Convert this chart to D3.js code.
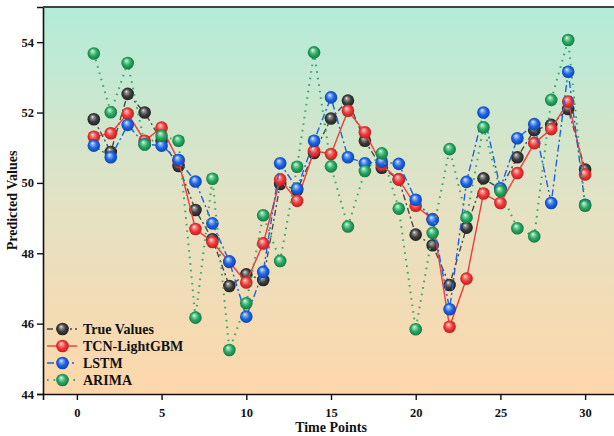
<!DOCTYPE html>
<html>
<head>
<meta charset="utf-8">
<script src="https://cdn.jsdelivr.net/npm/d3@7"></script>
<style>
  body { margin: 0; background: #fff; }
  svg text { font-family: "Liberation Serif", "Times New Roman", serif; font-weight: bold; }
</style>
</head>
<body>
<div id="chart"></div>
<script>
// data
const timePoints = [1,2,3,4,5,6,7,8,9,10,11,12,13,14,15,16,17,18,19,20,21,22,23,24,25,26,27,28,29,30];
const trueValues = [51.81,50.88,52.53,52.0,51.2,50.48,49.23,48.4,47.07,47.4,47.24,49.97,49.8,50.85,51.83,52.34,51.2,50.43,50.1,48.53,48.23,47.1,48.73,50.13,49.82,50.73,51.5,51.65,52.1,50.38];
const tcnLightGBM = [51.31,51.41,51.97,51.2,51.57,50.63,48.69,48.32,47.75,47.17,48.28,50.1,49.49,50.91,50.82,52.05,51.44,50.51,50.1,49.35,48.97,45.91,47.28,49.7,49.43,50.28,51.13,51.53,52.31,50.24];
const lstm = [51.06,50.73,51.65,51.1,51.06,50.65,50.04,48.85,47.77,46.2,47.47,50.56,49.84,51.2,52.43,50.73,50.56,50.6,50.54,49.52,48.95,46.41,50.03,52.0,49.85,51.27,51.67,49.43,53.16,49.38];
const arima = [53.68,52.01,53.41,51.09,51.34,51.2,46.17,50.12,45.25,46.58,49.08,47.78,50.46,53.71,50.47,48.76,50.34,50.84,49.27,45.84,48.58,50.96,49.02,51.58,49.77,48.71,48.48,52.36,54.06,49.35];
const seriesNames = ["True Values", "TCN-LightGBM", "LSTM", "ARIMA"];
const xTicks = [0, 5, 10, 15, 20, 25, 30];
const yTicks = [44, 46, 48, 50, 52, 54];

const W = 614, H = 436;
const margin = { top: 7, right: -5, bottom: 42, left: 43 };
const width = W - margin.left - margin.right,
  height = H - margin.top - margin.bottom;

const svg = d3.select("#chart").append("svg")
  .attr("width", W).attr("height", H);

const defs = svg.append("defs");
const bg = defs.append("linearGradient").attr("id", "bg")
  .attr("x1", 0).attr("y1", 0).attr("x2", 0).attr("y2", 1);
bg.append("stop").attr("offset", "0%").attr("stop-color", "#b2ecd9");
bg.append("stop").attr("offset", "50%").attr("stop-color", "#e3e2c4");
bg.append("stop").attr("offset", "100%").attr("stop-color", "#fed7aa");

const styles = [
  { key: "t", line: "#4a4a4a", light: "#a0a0a0", base: "#3e3e3e", dark: "#1c1c1c", dash: "6,3,2,3", w: 1.4 },
  { key: "r", line: "#ee3b3b", light: "#ffa0a0", base: "#f03838", dark: "#b51a1a", dash: null, w: 1.4 },
  { key: "b", line: "#1f62d8", light: "#95bcff", base: "#1e64e6", dark: "#0e40a0", dash: "7,3,2,3", w: 1.4 },
  { key: "g", line: "#36a86a", light: "#95e4b5", base: "#28a862", dark: "#16703d", dash: "1.6,5", w: 2 }
];
styles.forEach(s => {
  const rg = defs.append("radialGradient").attr("id", "ball-" + s.key)
    .attr("cx", "50%").attr("cy", "50%").attr("r", "55%")
    .attr("fx", "38%").attr("fy", "30%");
  rg.append("stop").attr("offset", "0%").attr("stop-color", "#ffffff");
  rg.append("stop").attr("offset", "16%").attr("stop-color", s.light);
  rg.append("stop").attr("offset", "55%").attr("stop-color", s.base);
  rg.append("stop").attr("offset", "100%").attr("stop-color", s.dark);
});

const g = svg.append("g").attr("transform", `translate(${margin.left},${margin.top})`);

const x = d3.scaleLinear().domain([-2, 32]).range([0, width]);
const y = d3.scaleLinear().domain([44, 55]).range([height, 0]);

g.append("rect").attr("width", width).attr("height", height).attr("fill", "url(#bg)");

// series
const allSeries = [trueValues, tcnLightGBM, lstm, arima];
const line = d3.line().x((d, i) => x(timePoints[i])).y(d => y(d));

allSeries.forEach((vals, k) => {
  const s = styles[k];
  const sg = g.append("g");
  sg.append("path").datum(vals)
    .attr("d", line)
    .attr("fill", "none")
    .attr("stroke", s.line)
    .attr("stroke-width", s.w)
    .attr("stroke-dasharray", s.dash);
  sg.selectAll("circle").data(vals).join("circle")
    .attr("cx", (d, i) => x(timePoints[i]))
    .attr("cy", d => y(d))
    .attr("r", 6.3)
    .attr("fill", `url(#ball-${s.key})`);
});

// axes
const xAxis = g.append("g").attr("transform", `translate(0,${height})`)
  .call(d3.axisBottom(x).tickValues(xTicks).tickSize(6).tickPadding(8));
const yAxis = g.append("g")
  .call(d3.axisLeft(y).tickValues(yTicks).tickSize(6).tickPadding(3));
[xAxis, yAxis].forEach(a => {
  a.select(".domain").attr("stroke", "#111").attr("stroke-width", 1.6);
  a.selectAll(".tick line").attr("stroke", "#111").attr("stroke-width", 1.4);
  a.selectAll("text").attr("fill", "#111").style("font-size", "12.5px");
});
g.append("line").attr("x1", 0).attr("x2", width).attr("y1", 0).attr("y2", 0)
  .attr("stroke", "#444").attr("stroke-width", 2);

svg.append("text").attr("x", margin.left + x(15)).attr("y", 432)
  .attr("text-anchor", "middle").style("font-size", "14px").attr("fill", "#111")
  .text("Time Points");
svg.append("text").attr("transform", `translate(17,${margin.top + height / 2}) rotate(-90)`)
  .attr("text-anchor", "middle").style("font-size", "14px").attr("fill", "#111")
  .text("Predicted Values");

// legend
const legend = svg.append("g").attr("transform", "translate(47,329)");
seriesNames.forEach((name, k) => {
  const s = styles[k];
  const row = legend.append("g").attr("transform", `translate(0,${k * 17})`);
  row.append("line").attr("x1", 0).attr("x2", 30).attr("y1", 0).attr("y2", 0)
    .attr("stroke", s.line).attr("stroke-width", s.w)
    .attr("stroke-dasharray", s.dash);
  row.append("circle").attr("cx", 15.5).attr("cy", 0).attr("r", 6.3)
    .attr("fill", `url(#ball-${s.key})`);
  row.append("text").attr("x", 36).attr("y", 0).attr("dy", "0.35em")
    .style("font-size", "14px").attr("fill", "#111").text(name);
});
</script>
</body>
</html>
